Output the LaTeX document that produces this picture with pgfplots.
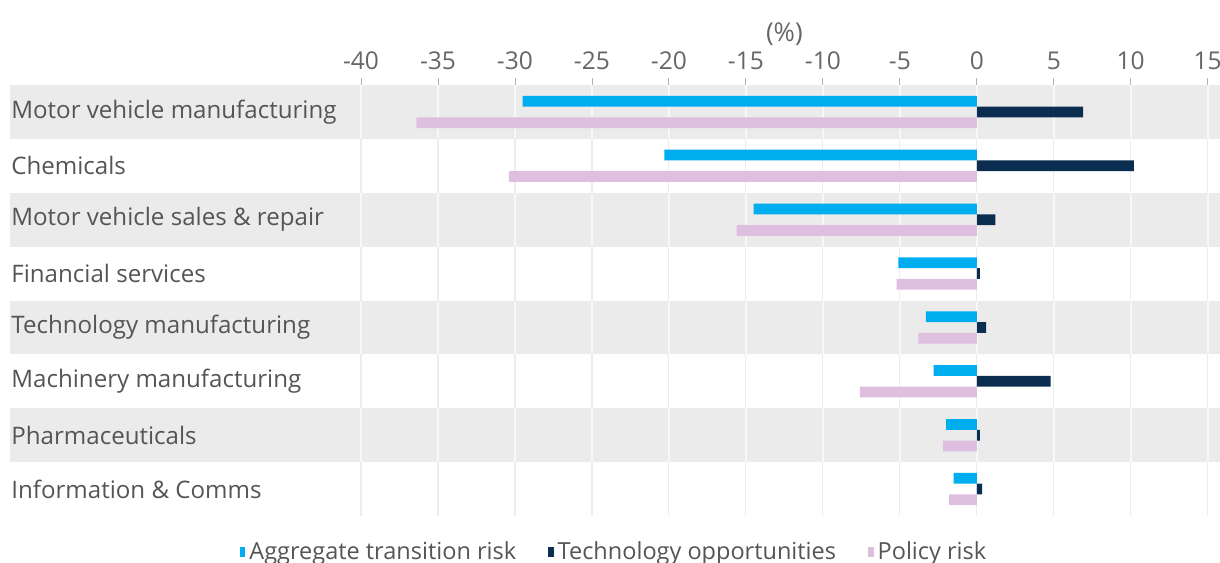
\documentclass[border=0pt]{standalone}
\usepackage{fontspec}
\setmainfont{Open Sans}
\usepackage{pgfplots}
\pgfplotsset{compat=1.18}

\definecolor{aggblue}{HTML}{00AEEF}
\definecolor{technavy}{HTML}{0A2D50}
\definecolor{policypink}{HTML}{DEBFE0}
\definecolor{band}{HTML}{EBEBEB}
\definecolor{txt}{HTML}{555555}
\definecolor{ticktxt}{HTML}{666666}
\definecolor{gridc}{HTML}{EDEDED}

\pgfplotsset{sqleg/.style={legend image code/.code={\fill[##1] (0bp,-2.4bp) rectangle (2.8bp,2.4bp);}}}

\begin{document}
\begin{tikzpicture}
\begin{axis}[
    set layers,
    clip=false,
    scale only axis,
    width=605bp, height=215.5bp,
    xmin=-62.8, xmax=15.8,
    ymin=-0.5, ymax=7.5,
    y dir=reverse,
    xtick={-40,-35,...,15},
    xticklabels={-40,-35,-30,-25,-20,-15,-10,-5,0,5,10,15},
    xtick pos=right, xticklabel pos=right,
    ytick=\empty,
    axis line style={draw=none},
    tick align=outside,
    major tick length=3.5bp,
    tick style={draw=gray!60, line width=0.4pt},
    xticklabel style={font=\fontsize{12.3}{14}\selectfont, text=ticktxt, yshift=0.8bp},
    bar width=0.2, bar shift=0pt,
    legend style={at={(axis description cs:0.5,0)}, anchor=center, yshift=-18bp,
        draw=none, fill=none, font=\fontsize{11.8}{13}\selectfont, text=txt,
        legend columns=-1,
        /tikz/every even column/.append style={column sep=14bp}},
]
% background bands and grid
\begin{pgfonlayer}{axis background}
\pgfplotsinvokeforeach{-40,-35,...,15}{
    \draw[gridc, line width=0.6pt] (axis cs:#1,-0.5) -- (axis cs:#1,7.5);
}
\fill[band] (axis cs:-62.8,-0.5) rectangle (axis cs:15.8,0.5);
\fill[band] (axis cs:-62.8,1.5) rectangle (axis cs:15.8,2.5);
\fill[band] (axis cs:-62.8,3.5) rectangle (axis cs:15.8,4.5);
\fill[band] (axis cs:-62.8,5.5) rectangle (axis cs:15.8,6.5);
\pgfplotsinvokeforeach{-40,-35,...,15}{
    \draw[white!60!band, line width=0.8pt]
        (axis cs:#1,-0.5) -- (axis cs:#1,0.5)
        (axis cs:#1,1.5) -- (axis cs:#1,2.5)
        (axis cs:#1,3.5) -- (axis cs:#1,4.5)
        (axis cs:#1,5.5) -- (axis cs:#1,6.5);
}
\end{pgfonlayer}

% Aggregate transition risk
\addplot[xbar, fill=aggblue, draw=none, sqleg] coordinates {
    (-29.5,-0.2) (-20.3,0.8) (-14.5,1.8) (-5.1,2.8)
    (-3.3,3.8) (-2.8,4.8) (-2.0,5.8) (-1.5,6.8)
};
\addlegendentry{Aggregate transition risk}
% Technology opportunities
\addplot[xbar, fill=technavy, draw=none, sqleg] coordinates {
    (6.9,0) (10.2,1) (1.2,2) (0.2,3)
    (0.6,4) (4.8,5) (0.2,6) (0.35,7)
};
\addlegendentry{Technology opportunities}
% Policy risk
\addplot[xbar, fill=policypink, draw=none, sqleg] coordinates {
    (-36.4,0.2) (-30.4,1.2) (-15.6,2.2) (-5.2,3.2)
    (-3.8,4.2) (-7.6,5.2) (-2.2,6.2) (-1.8,7.2)
};
\addlegendentry{Policy risk}

% category labels
\begin{scope}[every node/.style={anchor=west, inner sep=0.5bp, text=txt, font=\fontsize{12.1}{14}\selectfont}]
\node at (axis cs:-62.8,0) {Motor vehicle manufacturing};
\node at (axis cs:-62.8,1) {Chemicals};
\node at (axis cs:-62.8,2) {Motor vehicle sales \& repair};
\node at (axis cs:-62.8,3) {Financial services};
\node at (axis cs:-62.8,4) {Technology manufacturing};
\node at (axis cs:-62.8,5) {Machinery manufacturing};
\node at (axis cs:-62.8,6) {Pharmaceuticals};
\node at (axis cs:-62.8,7) {Information \& Comms};
\end{scope}
\node[yshift=25.5bp, text=ticktxt, font=\fontsize{13}{15}\selectfont] at (axis cs:-12.5,-0.5) {(\%)};
\end{axis}
\pgfresetboundingbox
\path (-5bp,-23.5bp) rectangle (605bp,258bp);
\end{tikzpicture}
\end{document}
